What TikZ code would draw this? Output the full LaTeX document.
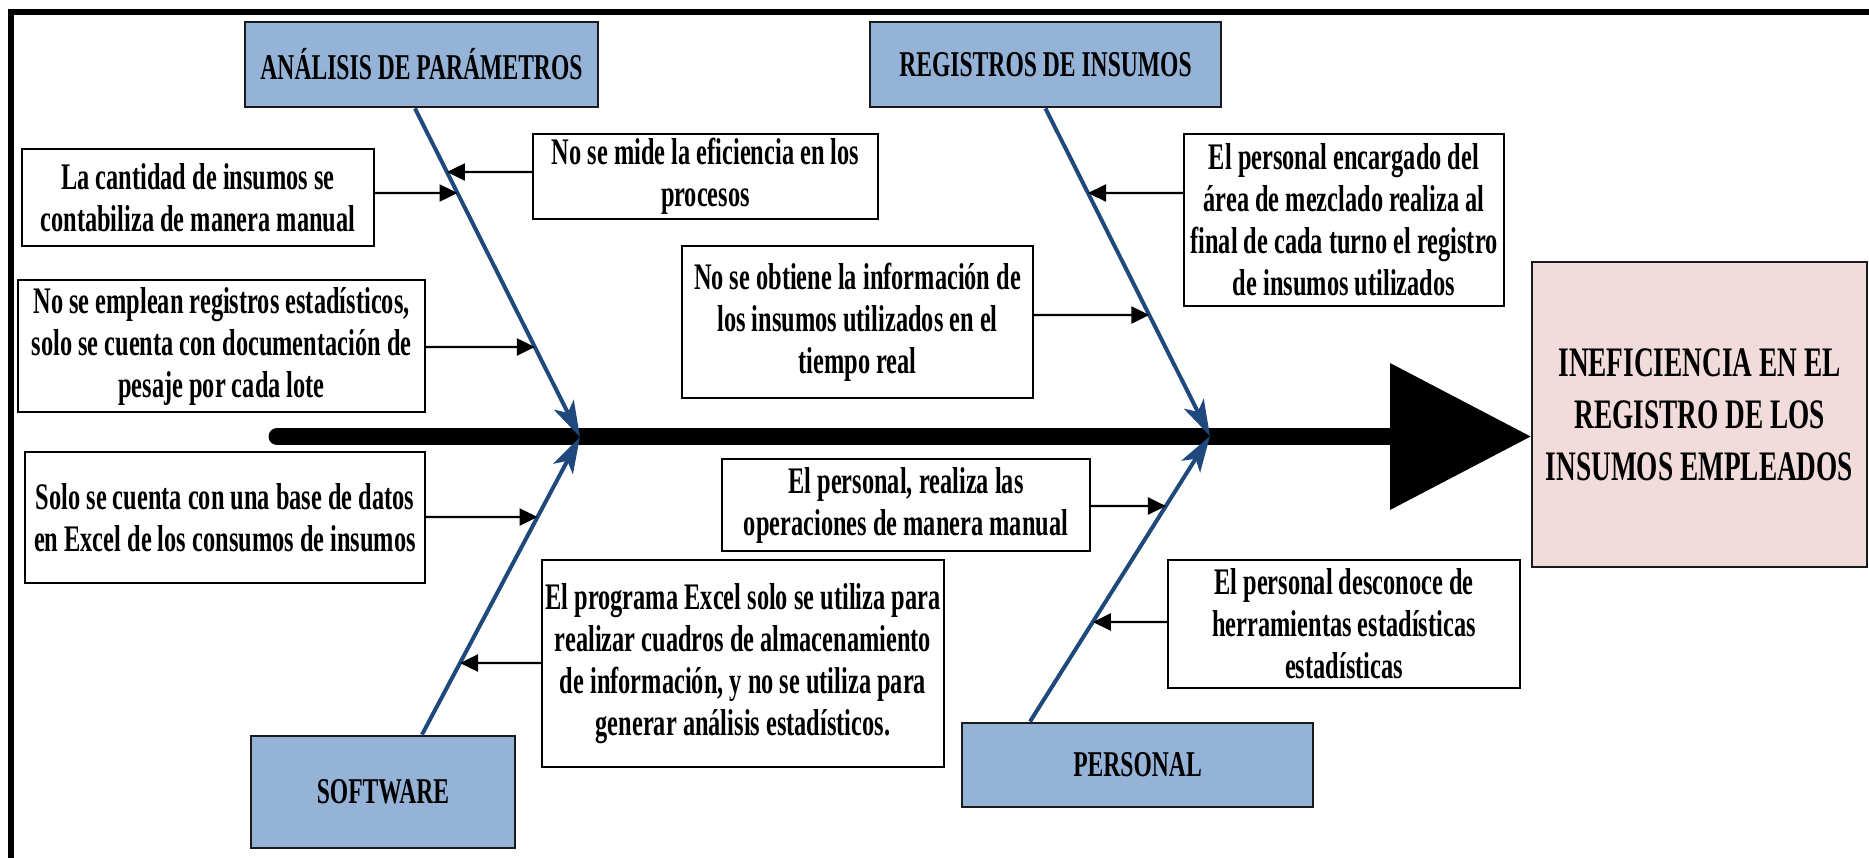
\documentclass[tikz,border=0pt]{standalone}
\usepackage{fontspec}
\setmainfont{Liberation Serif}[FakeStretch=0.65]
\usetikzlibrary{arrows.meta}

\definecolor{catfill}{HTML}{95B3D7}
\definecolor{effectfill}{HTML}{F2DCDB}
\definecolor{bonecol}{HTML}{1F497D}
\definecolor{edgecol}{HTML}{1A1A1A}

\tikzset{
  causebox/.style={draw=black, line width=2.2pt, fill=white, align=center,
    inner sep=0pt, font=\bfseries\fontsize{37.5}{42}\selectfont},
  catbox/.style={draw=edgecol, line width=2.8pt, fill=catfill, align=center,
    inner sep=0pt, font=\bfseries\fontsize{36.3}{42}\selectfont},
  effectbox/.style={draw=edgecol, line width=2.8pt, fill=effectfill, align=center,
    inner sep=0pt, font=\bfseries\fontsize{42}{52}\selectfont},
  bone/.style={draw=bonecol, line width=4pt,
    -{Stealth[length=36pt,width=22pt,inset=9pt]}},
  causearrow/.style={draw=black, line width=2.4pt,
    -{Triangle[length=18pt,width=17pt]}},
  spine/.style={line width=17pt, line cap=round},
}

\begin{document}
\begin{tikzpicture}[x=1pt,y=-1pt]
\useasboundingbox (0,0) rectangle (1869,857);
\clip (0,0) rectangle (1869,857);

% outer frame
\draw[line width=6pt] (11,12) rectangle (1890,880);

% effect
\node[effectbox, minimum width=335pt, minimum height=305pt] (eff) at (1699.5,414.5)
  {INEFICIENCIA EN EL\\REGISTRO DE LOS\\INSUMOS EMPLEADOS};

% main spine with its head
\coordinate (tail) at (277,436.5);
\coordinate (head) at (1392,436.5);
\draw[spine] (tail) -- (head);
\fill (1390,363) -- (eff.west |- 0,436.5) -- (1390,510) -- cycle;

% category boxes
\node[catbox, minimum width=353pt, minimum height=85pt] (ana) at (421.5,64.5) {ANÁLISIS DE PARÁMETROS};
\node[catbox, minimum width=351pt, minimum height=85pt] (reg) at (1045.5,64.5) {REGISTROS DE INSUMOS};
\node[catbox, minimum width=264pt, minimum height=112pt] (soft) at (383,792) {SOFTWARE};
\node[catbox, minimum width=351pt, minimum height=84pt] (pers) at (1137.5,765) {PERSONAL};

% junctions on the spine
\coordinate (ja) at (580,437);
\coordinate (jb) at (1210,436);
\coordinate (sa) at ([xshift=-6.5pt]ana.south);
\coordinate (sb) at (reg.south);
\coordinate (sc) at ([xshift=39pt]soft.north);
\coordinate (sd) at ([xshift=-107.5pt]pers.north);

% bones
\draw[bone] (sa) -- (ja);
\draw[bone] (sb) -- (jb);
\draw[bone] (sc) -- (ja);
\draw[bone] (sd) -- (jb);

% cause boxes
\node[causebox, minimum width=352pt, minimum height=97pt] (c1) at (198,197.5)
  {La cantidad de insumos se\\contabiliza de manera manual};
\node[causebox, minimum width=345pt, minimum height=85pt] (c2) at (705.5,176.5)
  {No se mide la eficiencia en los\\procesos};
\node[causebox, minimum width=407pt, minimum height=132pt] (c3) at (221.5,346)
  {No se emplean registros estadísticos,\\solo se cuenta con documentación de\\pesaje por cada lote};
\node[causebox, minimum width=400pt, minimum height=131pt] (c4) at (225,517.5)
  {Solo se cuenta con una base de datos\\en Excel de los consumos de insumos};
\node[causebox, minimum width=351pt, minimum height=152pt] (c5) at (857.5,322)
  {No se obtiene la información de\\los insumos utilizados en el\\tiempo real};
\node[causebox, minimum width=320pt, minimum height=172pt] (c6) at (1344,220)
  {El personal encargado del\\área de mezclado realiza al\\final de cada turno el registro\\de insumos utilizados};
\node[causebox, minimum width=368pt, minimum height=92pt] (c7) at (906,505)
  {El personal, realiza las\\operaciones de manera manual};
\node[causebox, minimum width=402pt, minimum height=207pt] (c8) at (743,663.5)
  {El programa Excel solo se utiliza para\\realizar cuadros de almacenamiento\\de información, y no se utiliza para\\generar análisis estadísticos.};
\node[causebox, minimum width=352pt, minimum height=128pt] (c9) at (1344,624)
  {El personal desconoce de\\herramientas estadísticas\\estadísticas};

% cause arrows: horizontal, ending on their bone
\coordinate (h1) at (c1.east |- 0,193);  \coordinate (g1) at ([xshift=100pt]h1);
\coordinate (h2) at (c2.west |- 0,172);  \coordinate (g2) at ([xshift=-100pt]h2);
\coordinate (h3) at (c3.east |- 0,347);  \coordinate (g3) at ([xshift=100pt]h3);
\coordinate (h4) at (c4.east |- 0,517);  \coordinate (g4) at ([xshift=100pt]h4);
\coordinate (h5) at (c5.east |- 0,315);  \coordinate (g5) at ([xshift=100pt]h5);
\coordinate (h6) at (c6.west |- 0,193);  \coordinate (g6) at ([xshift=-100pt]h6);
\coordinate (h7) at (c7.east |- 0,506);  \coordinate (g7) at ([xshift=100pt]h7);
\coordinate (h8) at (c8.west |- 0,663);  \coordinate (g8) at ([xshift=-100pt]h8);
\coordinate (h9) at (c9.west |- 0,622);  \coordinate (g9) at ([xshift=-100pt]h9);

\draw[causearrow] (h1) -- (intersection of sa--ja and h1--g1);
\draw[causearrow] (h2) -- (intersection of sa--ja and h2--g2);
\draw[causearrow] (h3) -- (intersection of sa--ja and h3--g3);
\draw[causearrow] (h4) -- (intersection of sc--ja and h4--g4);
\draw[causearrow] (h5) -- (intersection of sb--jb and h5--g5);
\draw[causearrow] (h6) -- (intersection of sb--jb and h6--g6);
\draw[causearrow] (h7) -- (intersection of sd--jb and h7--g7);
\draw[causearrow] (h8) -- (intersection of sc--ja and h8--g8);
\draw[causearrow] (h9) -- (intersection of sd--jb and h9--g9);
\end{tikzpicture}
\end{document}
